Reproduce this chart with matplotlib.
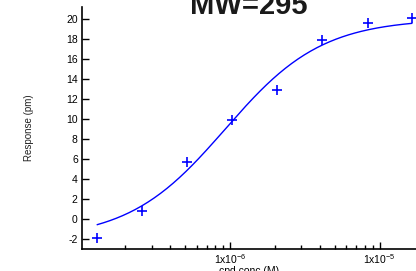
import matplotlib
matplotlib.use('Agg')
import matplotlib.pyplot as plt
from matplotlib.ticker import FixedLocator, FixedFormatter, LogLocator, NullFormatter
import numpy as np

plt.rcParams['font.family'] = ['Liberation Sans', 'DejaVu Sans']
plt.rcParams['axes.unicode_minus'] = False

# dose-response data
conc = [1.3e-7, 2.6e-7, 5.2e-7, 1.03e-6, 2.06e-6, 4.14e-6, 8.3e-6, 1.64e-5]
response = [-1.9, 0.86, 5.7, 9.9, 12.9, 17.9, 19.6, 20.1]

# fitted Hill curve parameters
fit_bottom = -2.0
fit_top = 20.0
fit_ec50 = 9.3e-7
fit_hill = 1.34

y_ticks = list(range(-2, 21, 2))
x_major = [1e-6, 1e-5]
x_major_labels = ['1x10$^{\\mathregular{-6}}$', '1x10$^{\\mathregular{-5}}$']

fig = plt.figure(figsize=(4.16, 2.71), dpi=100)
ax = fig.add_axes([0.197, 0.0812, 0.803, 0.894])

xf = np.logspace(np.log10(conc[0]), np.log10(conc[-1]), 200)
yf = fit_bottom + (fit_top - fit_bottom) / (1 + (fit_ec50 / xf) ** fit_hill)
ax.plot(xf, yf, color='#0000ff', lw=1.0)
ax.plot(conc, response, ls='none', marker='+', ms=6.5, mew=1.2, color='#0000ff')

ax.set_xscale('log')
ax.set_xlim(1.026e-7, 1.75e-5)
ax.set_ylim(-2.96, 21.2)

ax.xaxis.set_major_locator(FixedLocator(x_major))
ax.xaxis.set_major_formatter(FixedFormatter(x_major_labels))
ax.xaxis.set_minor_locator(LogLocator(base=10, subs=np.arange(2, 10)))
ax.xaxis.set_minor_formatter(NullFormatter())
ax.set_yticks(y_ticks)

ax.tick_params(axis='both', which='major', direction='in', length=5, width=1,
               labelsize=7.5, pad=3, colors='black')
ax.tick_params(axis='x', which='minor', direction='in', length=3, width=1)
ax.tick_params(axis='x', which='major', pad=2)

for s in ['top', 'right']:
    ax.spines[s].set_visible(False)
for s in ['left', 'bottom']:
    ax.spines[s].set_linewidth(1.2)

ax.set_xlabel('cpd conc (M)', fontsize=7.5, labelpad=0)
ax.set_ylabel('Response (pm)', fontsize=7, labelpad=23, color='#222222')

fig.text(249 / 416, 1 - 14.5 / 271, 'MW=295', ha='center', va='baseline',
         fontsize=21, fontweight='bold', color='#1a1a1a')

fig.savefig('out.png', dpi=100)
